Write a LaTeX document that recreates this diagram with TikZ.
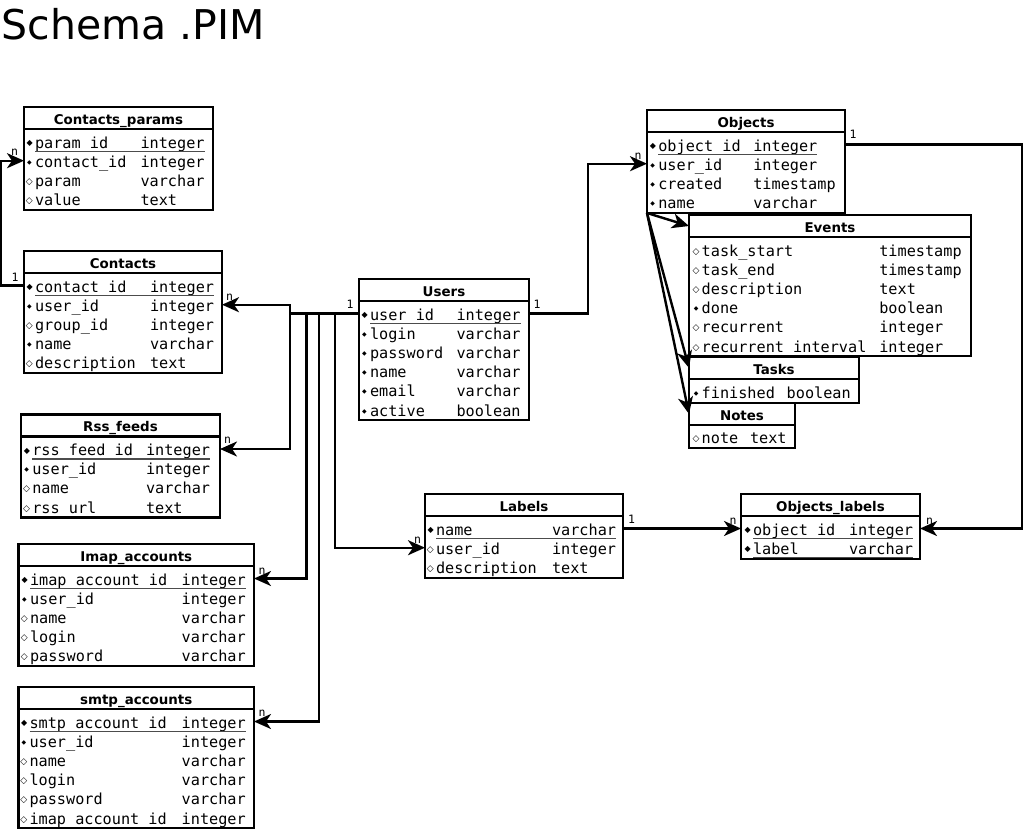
\documentclass[tikz,border=0pt]{standalone}
\usepackage{fontspec}
\setmainfont{DejaVu Sans}
\setmonofont{DejaVu Sans Mono}
\newfontfamily\markfont{DejaVu Sans}
\usetikzlibrary{arrows.meta}

\newcommand{\KeyMark}{\llap{\raisebox{2.3pt}{\markfont\fontsize{8}{8}\selectfont ◆}\hspace{2.3pt}}}
\newcommand{\ReqMark}{\llap{\raisebox{3pt}{\markfont\fontsize{6}{6}\selectfont ◆}\hspace{3.3pt}}}
\newcommand{\OptMark}{\llap{\raisebox{2pt}{\markfont\fontsize{9}{9}\selectfont ◇}\hspace{2.2pt}}}

\begin{document}
\begin{tikzpicture}[x=1pt,y=-1pt]
  \tikzset{HeadStyle/.style = {
    shape          = rectangle,
    draw           = black,
    line width     = 2.4pt,
    anchor         = north west,
    minimum height = 22pt,
    inner sep      = 0pt,
    outer sep      = 0pt,
    text height    = 12pt,
    text depth     = 0pt,
    font           = \bfseries\fontsize{13.4}{16}\selectfont
    }
  }
  \tikzset{BodyStyle/.style = {
    shape          = rectangle,
    draw           = black,
    line width     = 2.4pt,
    anchor         = north west,
    inner sep      = 0pt,
    outer sep      = 0pt
    }
  }
  \tikzset{FieldStyle/.style = {
    anchor         = base west,
    inner sep      = 0pt,
    outer sep      = 0pt,
    text height    = 14pt,
    text depth     = 1pt,
    font           = \ttfamily\fontsize{15.2}{18}\selectfont
    }
  }
  \tikzset{KeyLineStyle/.style = {
    draw           = black!70,
    line width     = 1.2pt
    }
  }
  \tikzset{LinkStyle/.style = {
    draw           = black,
    line width     = 2.4pt,
    -{Stealth[length=17pt,width=15pt,inset=5pt]}
    }
  }
  \tikzset{CardStyle/.style = {
    inner sep      = 0pt,
    font           = \ttfamily\fontsize{11.5}{13}\selectfont
    }
  }

  \useasboundingbox (0,0) rectangle (1024,830);
  \node[anchor=base west, inner sep=0pt, font=\fontsize{41}{48}\selectfont] (title) at (1.5,39.5) {Schema .PIM};

  % Contacts_params
  \node[HeadStyle, minimum width=189pt](CPh) at (24,107) {Contacts\_params};
  \node[BodyStyle, minimum width=189pt, minimum height=81pt](CPb) at (CPh.south west) {};
  \node[FieldStyle](CP1) at (35,148) {\KeyMark param\_id};     \node[FieldStyle](CP1t) at (140.5,148) {integer};
  \node[FieldStyle](CP2) at (35,167.2) {\ReqMark contact\_id}; \node[FieldStyle](CP2t) at (140.5,167.2) {integer};
  \node[FieldStyle](CP3) at (35,186.4) {\OptMark param};       \node[FieldStyle](CP3t) at (140.5,186.4) {varchar};
  \node[FieldStyle](CP4) at (35,205.6) {\OptMark value};       \node[FieldStyle](CP4t) at (140.5,205.6) {text};
  \draw[KeyLineStyle] ([yshift=-3.5pt]CP1.base west) -- ([yshift=-3.5pt]CP1t.base east);

  % Contacts
  \node[HeadStyle, minimum width=198pt](COh) at (24,251) {Contacts};
  \node[BodyStyle, minimum width=198pt, minimum height=100pt](COb) at (COh.south west) {};
  \node[FieldStyle](CO1) at (35,292) {\KeyMark contact\_id};    \node[FieldStyle](CO1t) at (150,292) {integer};
  \node[FieldStyle](CO2) at (35,311.2) {\ReqMark user\_id};     \node[FieldStyle](CO2t) at (150,311.2) {integer};
  \node[FieldStyle](CO3) at (35,330.4) {\OptMark group\_id};    \node[FieldStyle](CO3t) at (150,330.4) {integer};
  \node[FieldStyle](CO4) at (35,349.6) {\ReqMark name};         \node[FieldStyle](CO4t) at (150,349.6) {varchar};
  \node[FieldStyle](CO5) at (35,368.8) {\OptMark description};  \node[FieldStyle](CO5t) at (150,368.8) {text};
  \draw[KeyLineStyle] ([yshift=-3.5pt]CO1.base west) -- ([yshift=-3.5pt]CO1t.base east);

  % Users
  \node[HeadStyle, minimum width=170pt](USh) at (359,279) {Users};
  \node[BodyStyle, minimum width=170pt, minimum height=119pt](USb) at (USh.south west) {};
  \node[FieldStyle](US1) at (370,320) {\KeyMark user\_id};    \node[FieldStyle](US1t) at (456.5,320) {integer};
  \node[FieldStyle](US2) at (370,339.2) {\ReqMark login};     \node[FieldStyle](US2t) at (456.5,339.2) {varchar};
  \node[FieldStyle](US3) at (370,358.4) {\ReqMark password};  \node[FieldStyle](US3t) at (456.5,358.4) {varchar};
  \node[FieldStyle](US4) at (370,377.6) {\ReqMark name};      \node[FieldStyle](US4t) at (456.5,377.6) {varchar};
  \node[FieldStyle](US5) at (370,396.8) {\ReqMark email};     \node[FieldStyle](US5t) at (456.5,396.8) {varchar};
  \node[FieldStyle](US6) at (370,416) {\ReqMark active};      \node[FieldStyle](US6t) at (456.5,416) {boolean};
  \draw[KeyLineStyle] ([yshift=-3.5pt]US1.base west) -- ([yshift=-3.5pt]US1t.base east);

  % Rss_feeds
  \node[HeadStyle, minimum width=199pt](RSh) at (21,414.5) {Rss\_feeds};
  \node[BodyStyle, minimum width=199pt, minimum height=81pt](RSb) at (RSh.south west) {};
  \node[FieldStyle](RS1) at (32.3,455.5) {\KeyMark rss\_feed\_id}; \node[FieldStyle](RS1t) at (146,455.5) {integer};
  \node[FieldStyle](RS2) at (32.3,474.7) {\ReqMark user\_id};      \node[FieldStyle](RS2t) at (146,474.7) {integer};
  \node[FieldStyle](RS3) at (32.3,493.9) {\OptMark name};          \node[FieldStyle](RS3t) at (146,493.9) {varchar};
  \node[FieldStyle](RS4) at (32.3,513.1) {\OptMark rss\_url};      \node[FieldStyle](RS4t) at (146,513.1) {text};
  \draw[KeyLineStyle] ([yshift=-3.5pt]RS1.base west) -- ([yshift=-3.5pt]RS1t.base east);

  % Imap_accounts
  \node[HeadStyle, minimum width=235.5pt](IMh) at (18.5,544) {Imap\_accounts};
  \node[BodyStyle, minimum width=235.5pt, minimum height=100pt](IMb) at (IMh.south west) {};
  \node[FieldStyle](IM1) at (30,585) {\KeyMark imap\_account\_id};   \node[FieldStyle](IM1t) at (181.7,585) {integer};
  \node[FieldStyle](IM2) at (30,604.2) {\ReqMark user\_id};          \node[FieldStyle](IM2t) at (181.7,604.2) {integer};
  \node[FieldStyle](IM3) at (30,623.4) {\OptMark name};              \node[FieldStyle](IM3t) at (181.7,623.4) {varchar};
  \node[FieldStyle](IM4) at (30,642.6) {\OptMark login};             \node[FieldStyle](IM4t) at (181.7,642.6) {varchar};
  \node[FieldStyle](IM5) at (30,661.8) {\OptMark password};          \node[FieldStyle](IM5t) at (181.7,661.8) {varchar};
  \draw[KeyLineStyle] ([yshift=-3.5pt]IM1.base west) -- ([yshift=-3.5pt]IM1t.base east);

  % smtp_accounts
  \node[HeadStyle, minimum width=235.5pt](SMh) at (18.5,687) {smtp\_accounts};
  \node[BodyStyle, minimum width=235.5pt, minimum height=119pt](SMb) at (SMh.south west) {};
  \node[FieldStyle](SM1) at (29.5,728) {\KeyMark smtp\_account\_id};   \node[FieldStyle](SM1t) at (181.7,728) {integer};
  \node[FieldStyle](SM2) at (29.5,747.2) {\ReqMark user\_id};          \node[FieldStyle](SM2t) at (181.7,747.2) {integer};
  \node[FieldStyle](SM3) at (29.5,766.4) {\OptMark name};              \node[FieldStyle](SM3t) at (181.7,766.4) {varchar};
  \node[FieldStyle](SM4) at (29.5,785.6) {\OptMark login};             \node[FieldStyle](SM4t) at (181.7,785.6) {varchar};
  \node[FieldStyle](SM5) at (29.5,804.8) {\OptMark password};          \node[FieldStyle](SM5t) at (181.7,804.8) {varchar};
  \node[FieldStyle](SM6) at (29.5,824) {\OptMark imap\_account\_id};   \node[FieldStyle](SM6t) at (181.7,824) {integer};
  \draw[KeyLineStyle] ([yshift=-3.5pt]SM1.base west) -- ([yshift=-3.5pt]SM1t.base east);

  % Objects
  \node[HeadStyle, minimum width=198pt](OBh) at (647,110) {Objects};
  \node[BodyStyle, minimum width=198pt, minimum height=81pt](OBb) at (OBh.south west) {};
  \node[FieldStyle](OB1) at (658.3,151) {\KeyMark object\_id};   \node[FieldStyle](OB1t) at (753.3,151) {integer};
  \node[FieldStyle](OB2) at (658.3,170.2) {\ReqMark user\_id};   \node[FieldStyle](OB2t) at (753.3,170.2) {integer};
  \node[FieldStyle](OB3) at (658.3,189.4) {\ReqMark created};    \node[FieldStyle](OB3t) at (753.3,189.4) {timestamp};
  \node[FieldStyle](OB4) at (658.3,208.6) {\ReqMark name};       \node[FieldStyle](OB4t) at (753.3,208.6) {varchar};
  \draw[KeyLineStyle] ([yshift=-3.5pt]OB1.base west) -- ([yshift=-3.5pt]OB1t.base east);

  % Events
  \node[HeadStyle, minimum width=282pt](EVh) at (689,215) {Events};
  \node[BodyStyle, minimum width=282pt, minimum height=119pt](EVb) at (EVh.south west) {};
  \node[FieldStyle](EV1) at (701.7,256) {\OptMark task\_start};           \node[FieldStyle](EV1t) at (879.3,256) {timestamp};
  \node[FieldStyle](EV2) at (701.7,275.2) {\OptMark task\_end};           \node[FieldStyle](EV2t) at (879.3,275.2) {timestamp};
  \node[FieldStyle](EV3) at (701.7,294.4) {\OptMark description};        \node[FieldStyle](EV3t) at (879.3,294.4) {text};
  \node[FieldStyle](EV4) at (701.7,313.6) {\ReqMark done};               \node[FieldStyle](EV4t) at (879.3,313.6) {boolean};
  \node[FieldStyle](EV5) at (701.7,332.8) {\OptMark recurrent};          \node[FieldStyle](EV5t) at (879.3,332.8) {integer};
  \node[FieldStyle](EV6) at (701.7,352) {\OptMark recurrent\_interval};  \node[FieldStyle](EV6t) at (879.3,352) {integer};

  % Tasks
  \node[HeadStyle, minimum width=170pt](TAh) at (689,357) {Tasks};
  \node[BodyStyle, minimum width=170pt, minimum height=24pt](TAb) at (TAh.south west) {};
  \node[FieldStyle](TA1) at (701.7,398) {\ReqMark finished}; \node[FieldStyle](TA1t) at (786.7,398) {boolean};

  % Notes
  \node[HeadStyle, minimum width=106pt](NOh) at (689,403) {Notes};
  \node[BodyStyle, minimum width=106pt, minimum height=23pt](NOb) at (NOh.south west) {};
  \node[FieldStyle](NO1) at (701.7,443) {\OptMark note}; \node[FieldStyle](NO1t) at (750,443) {text};

  % Labels
  \node[HeadStyle, minimum width=198pt](LAh) at (425,494) {Labels};
  \node[BodyStyle, minimum width=198pt, minimum height=62pt](LAb) at (LAh.south west) {};
  \node[FieldStyle](LA1) at (436,535) {\KeyMark name};          \node[FieldStyle](LA1t) at (552,535) {varchar};
  \node[FieldStyle](LA2) at (436,554.2) {\OptMark user\_id};    \node[FieldStyle](LA2t) at (552,554.2) {integer};
  \node[FieldStyle](LA3) at (436,573.4) {\OptMark description}; \node[FieldStyle](LA3t) at (552,573.4) {text};
  \draw[KeyLineStyle] ([yshift=-3.5pt]LA1.base west) -- ([yshift=-3.5pt]LA1t.base east);

  % Objects_labels
  \node[HeadStyle, minimum width=179pt](OLh) at (741,494) {Objects\_labels};
  \node[BodyStyle, minimum width=179pt, minimum height=43pt](OLb) at (OLh.south west) {};
  \node[FieldStyle](OL1) at (753,535) {\KeyMark object\_id};   \node[FieldStyle](OL1t) at (849,535) {integer};
  \node[FieldStyle](OL2) at (753,554.2) {\KeyMark label};      \node[FieldStyle](OL2t) at (849,554.2) {varchar};
  \draw[KeyLineStyle] ([yshift=-3.5pt]OL1.base west) -- ([yshift=-3.5pt]OL1t.base east);
  \draw[KeyLineStyle] ([yshift=-3.5pt]OL2.base west) -- ([yshift=-3.5pt]OL2t.base east);

  % relations
  \draw[LinkStyle](COb.west |- CO1) -- ++(-23,0) |- (CPb.west |- CP2);
  \draw[LinkStyle](USb.west |- US1) -- ++(-69,0) |- (COb.east |- CO2);
  \draw[LinkStyle](USb.west |- US1) -- ++(-69,0) |- (RSb.east |- RS1);
  \draw[LinkStyle](USb.west |- US1) -- ++(-52.5,0) |- (IMb.east |- IM1);
  \draw[LinkStyle](USb.west |- US1) -- ++(-40,0) |- (SMb.east |- SM1);
  \draw[LinkStyle](USb.west |- US1) -- ++(-24,0) |- (LAb.west |- LA2);
  \draw[LinkStyle](USb.east |- US1) -- ++(59,0) |- (OBb.west |- OB2);
  \draw[LinkStyle](OBb.east |- OB1) -- ++(177,0) |- (OLb.east |- OL1);
  \draw[LinkStyle](LAb.east |- LA1) -- (OLb.west |- OL1);
  \draw[LinkStyle](OBb.south west) -- (EVh.west);
  \draw[LinkStyle](OBb.south west) -- (TAh.west);
  \draw[LinkStyle](OBb.south west) -- (NOh.west);

  \node[CardStyle](k1) at (15,277) {1};
  \node[CardStyle](k2) at (14.5,152) {n};
  \node[CardStyle](k3) at (350,304) {1};
  \node[CardStyle](k4) at (229.5,297) {n};
  \node[CardStyle](k5) at (227.5,440) {n};
  \node[CardStyle](k6) at (262,571) {n};
  \node[CardStyle](k7) at (262,713) {n};
  \node[CardStyle](k8) at (417.5,540) {n};
  \node[CardStyle](k9) at (537,304) {1};
  \node[CardStyle](k10) at (638,156) {n};
  \node[CardStyle](k11) at (853,134) {1};
  \node[CardStyle](k12) at (929.5,521) {n};
  \node[CardStyle](k13) at (631.5,519) {1};
  \node[CardStyle](k14) at (733,521) {n};

\end{tikzpicture}
\end{document}
